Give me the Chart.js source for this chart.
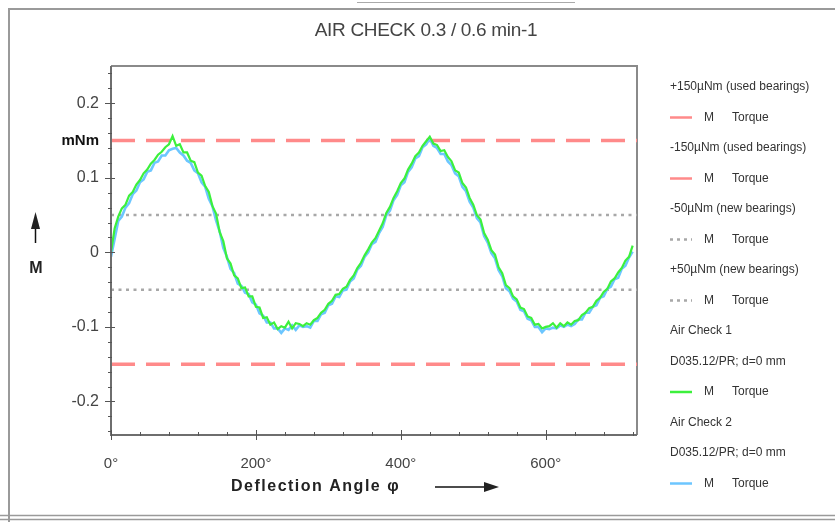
<!DOCTYPE html>
<html>
<head>
<meta charset="utf-8">
<script src="https://cdn.jsdelivr.net/npm/chart.js@4.4.1/dist/chart.umd.min.js"></script>
<style>
html,body{margin:0;padding:0;background:#fff;}
#wrap{position:relative;width:835px;height:523px;}
canvas{display:block;}
</style>
</head>
<body>
<div id="wrap"><canvas id="c" width="835" height="523"></canvas></div>
<script>
// ---- data ----
const angles = [0,5,10,15,20,25,30,35,40,45,50,55,60,65,70,75,80,85,90,95,100,105,110,115,120,125,130,135,140,145,150,155,160,165,170,175,180,185,190,195,200,205,210,215,220,225,230,235,240,245,250,255,260,265,270,275,280,285,290,295,300,305,310,315,320,325,330,335,340,345,350,355,360,365,370,375,380,385,390,395,400,405,410,415,420,425,430,435,440,445,450,455,460,465,470,475,480,485,490,495,500,505,510,515,520,525,530,535,540,545,550,555,560,565,570,575,580,585,590,595,600,605,610,615,620,625,630,635,640,645,650,655,660,665,670,675,680,685,690,695,700,705,710,715,720];
const airCheck1 = [
  0.000,0.032,0.048,0.059,0.064,0.076,0.081,0.091,0.097,0.106,
  0.111,0.119,0.124,0.131,0.135,0.141,0.145,0.156,0.143,0.145,
  0.134,0.134,0.123,0.121,0.107,0.103,0.089,0.081,0.062,0.052,
  0.027,0.015,-0.008,-0.015,-0.031,-0.035,-0.048,-0.047,-0.059,-0.059,
  -0.073,-0.074,-0.088,-0.087,-0.097,-0.094,-0.103,-0.099,-0.101,-0.093,
  -0.102,-0.095,-0.096,-0.099,-0.095,-0.097,-0.091,-0.088,-0.081,-0.077,
  -0.069,-0.065,-0.057,-0.056,-0.049,-0.046,-0.037,-0.031,-0.021,-0.014,
  -0.004,0.004,0.013,0.019,0.029,0.039,0.053,0.061,0.073,0.082,
  0.093,0.099,0.111,0.119,0.129,0.134,0.143,0.149,0.155,0.146,
  0.144,0.136,0.137,0.128,0.122,0.110,0.107,0.093,0.087,0.073,
  0.064,0.050,0.044,0.026,0.017,0.003,-0.003,-0.020,-0.028,-0.044,
  -0.048,-0.059,-0.063,-0.074,-0.076,-0.086,-0.088,-0.097,-0.096,-0.102,
  -0.100,-0.099,-0.095,-0.101,-0.095,-0.099,-0.094,-0.097,-0.092,-0.091,
  -0.084,-0.081,-0.075,-0.073,-0.065,-0.061,-0.053,-0.049,-0.039,-0.035,
  -0.027,-0.021,-0.011,-0.006,0.009];
const airCheck2 = [
  -0.006,0.018,0.042,0.048,0.060,0.066,0.078,0.083,0.094,0.098,
  0.108,0.110,0.120,0.122,0.130,0.130,0.137,0.139,0.140,0.134,
  0.130,0.123,0.120,0.110,0.106,0.094,0.088,0.072,0.062,0.043,
  0.028,0.006,-0.006,-0.022,-0.028,-0.042,-0.045,-0.054,-0.056,-0.067,
  -0.070,-0.082,-0.085,-0.094,-0.094,-0.102,-0.102,-0.108,-0.102,-0.104,
  -0.098,-0.104,-0.098,-0.100,-0.099,-0.101,-0.092,-0.092,-0.083,-0.081,
  -0.071,-0.069,-0.059,-0.060,-0.051,-0.050,-0.039,-0.035,-0.023,-0.018,
  -0.006,0.000,0.011,0.014,0.026,0.034,0.050,0.056,0.070,0.077,
  0.090,0.094,0.108,0.114,0.126,0.129,0.141,0.145,0.153,0.143,
  0.140,0.132,0.132,0.122,0.117,0.106,0.102,0.088,0.082,0.068,
  0.060,0.046,0.040,0.022,0.013,-0.001,-0.008,-0.024,-0.032,-0.048,
  -0.052,-0.062,-0.066,-0.077,-0.079,-0.089,-0.091,-0.100,-0.100,-0.107,
  -0.102,-0.103,-0.101,-0.102,-0.098,-0.100,-0.097,-0.099,-0.096,-0.090,
  -0.090,-0.081,-0.081,-0.073,-0.071,-0.061,-0.059,-0.049,-0.046,-0.036,
  -0.034,-0.022,-0.018,-0.007,0.001];
const limitUsedPlus = 0.15;
const limitUsedMinus = -0.15;
const limitNewMinus = -0.05;
const limitNewPlus = 0.05;
const xRange = [0, 726];
const yRange = [-0.245, 0.25];
const xTickValues = [0, 200, 400, 600];
const xTickLabels = ['0°', '200°', '400°', '600°'];
const yTickValues = [-0.2, -0.1, 0, 0.1, 0.15, 0.2];
const yTickLabels = ['-0.2', '-0.1', '0', '0.1', 'mNm', '0.2'];
const titleText = 'AIR CHECK 0.3 / 0.6 min-1';
const xAxisTitle = 'Deflection Angle φ';
const yAxisTitle = 'M';
const legendTexts = ['+150µNm (used bearings)', 'M|Torque', '-150µNm (used bearings)', 'M|Torque',
  '-50µNm (new bearings)', 'M|Torque', '+50µNm (new bearings)', 'M|Torque',
  'Air Check 1', 'D035.12/PR; d=0 mm', 'M|Torque', 'Air Check 2', 'D035.12/PR; d=0 mm', 'M|Torque'];

// ---- styles ----
const RED = '#ff8a8a', GRAY = '#a8a8a8', GREEN = '#3cf03c', BLUE = '#6cc6ff';
const FONT = '"Liberation Sans", Arial, sans-serif';

const pts = arr => angles.map((a, i) => ({x: a, y: arr[i]}));
const hline = v => [{x: xRange[0], y: v}, {x: xRange[1], y: v}];

const legendStyles = [null, {c: RED, d: []}, null, {c: RED, d: []}, null, {c: GRAY, d: [3, 4]}, null, {c: GRAY, d: [3, 4]},
  null, null, {c: GREEN, d: []}, null, null, {c: BLUE, d: []}];

const decor = {
  id: 'decor',
  beforeDraw(chart) {
    const ctx = chart.ctx;
    ctx.save();
    ctx.fillStyle = '#fff';
    ctx.fillRect(0, 0, chart.width, chart.height);
    ctx.restore();
  },
  beforeDatasetsDraw(chart) {
    const {ctx, chartArea: a} = chart;
    ctx.save();
    ctx.strokeStyle = '#8a8a8a';
    ctx.lineWidth = 2;
    ctx.beginPath();
    ctx.moveTo(a.left, a.top); ctx.lineTo(a.right, a.top); ctx.lineTo(a.right, a.bottom);
    ctx.stroke();
    ctx.restore();
  },
  afterDraw(chart) {
    const {ctx, chartArea: a, scales} = chart;
    const xs = scales.x, ys = scales.y;
    ctx.save();
    // axes
    ctx.strokeStyle = '#6e6e6e';
    ctx.lineWidth = 2;
    ctx.beginPath();
    ctx.moveTo(a.left, a.top); ctx.lineTo(a.left, a.bottom); ctx.lineTo(a.right, a.bottom);
    ctx.stroke();
    ctx.lineWidth = 1;
    ctx.strokeStyle = '#555';
    for (let v = -0.24; v <= 0.241; v += 0.02) {
      const y = Math.round(ys.getPixelForValue(v)) + 0.5;
      const major = Math.abs(Math.round(v * 100) % 10) === 0;
      ctx.beginPath();
      ctx.moveTo(a.left - (major ? 6 : 3), y); ctx.lineTo(a.left + (major ? 4 : 1), y);
      ctx.stroke();
    }
    for (let v = 0; v <= 720; v += 40) {
      const x = Math.round(xs.getPixelForValue(v)) + 0.5;
      const major = v % 200 === 0;
      ctx.beginPath();
      ctx.moveTo(x, a.bottom + (major ? 5 : 1)); ctx.lineTo(x, a.bottom - (major ? 5 : 3));
      ctx.stroke();
    }
    // outer frame
    ctx.strokeStyle = '#9a9a9a';
    ctx.lineWidth = 2;
    ctx.beginPath();
    ctx.moveTo(9, 522); ctx.lineTo(9, 9); ctx.lineTo(835, 9);
    ctx.stroke();
    ctx.lineWidth = 1.5;
    ctx.beginPath(); ctx.moveTo(0, 515.5); ctx.lineTo(835, 515.5); ctx.stroke();
    ctx.beginPath(); ctx.moveTo(0, 519.5); ctx.lineTo(835, 519.5); ctx.stroke();
    ctx.lineWidth = 1;
    ctx.strokeStyle = '#aaa';
    ctx.beginPath(); ctx.moveTo(357, 2.5); ctx.lineTo(575, 2.5); ctx.stroke();

    // title
    ctx.fillStyle = '#444';
    ctx.font = '19px ' + FONT;
    ctx.letterSpacing = '-0.3px';
    ctx.textAlign = 'center';
    ctx.textBaseline = 'middle';
    ctx.fillText(titleText, 426, 31);

    // x axis title + arrow
    ctx.fillStyle = '#222';
    ctx.font = 'bold 16px ' + FONT;
    ctx.letterSpacing = '1.5px';
    ctx.textAlign = 'left';
    ctx.fillText(xAxisTitle, 231, 487);
    ctx.letterSpacing = '0px';
    ctx.strokeStyle = '#111';
    ctx.lineWidth = 1.5;
    ctx.beginPath(); ctx.moveTo(435, 487); ctx.lineTo(486, 487); ctx.stroke();
    ctx.beginPath(); ctx.moveTo(499, 487); ctx.lineTo(484, 482); ctx.lineTo(484, 492); ctx.closePath(); ctx.fill();

    // y axis title + arrow
    ctx.font = 'bold 16px ' + FONT;
    ctx.textAlign = 'center';
    ctx.fillText(yAxisTitle, 36, 269);
    ctx.beginPath(); ctx.moveTo(35.5, 243); ctx.lineTo(35.5, 226); ctx.stroke();
    ctx.beginPath(); ctx.moveTo(35.5, 212); ctx.lineTo(31, 229); ctx.lineTo(40, 229); ctx.closePath(); ctx.fill();

    // legend
    ctx.font = '12px ' + FONT;
    ctx.textAlign = 'left';
    ctx.fillStyle = '#333';
    legendTexts.forEach((t, i) => {
      const y = 87 + i * 30.5;
      const st = legendStyles[i];
      if (st) {
        ctx.save();
        ctx.strokeStyle = st.c;
        ctx.lineWidth = 2.5;
        ctx.setLineDash(st.d);
        ctx.beginPath(); ctx.moveTo(670, y); ctx.lineTo(692, y); ctx.stroke();
        ctx.restore();
        const parts = t.split('|');
        ctx.fillText(parts[0], 704, y);
        ctx.fillText(parts[1], 732, y);
      } else {
        ctx.fillText(t, 670, y);
      }
    });
    ctx.restore();
  }
};

new Chart(document.getElementById('c'), {
  type: 'line',
  data: {
    datasets: [
      {label: 'Air Check 1', data: pts(airCheck1), borderColor: GREEN, borderWidth: 2.2, pointRadius: 0, order: 0, tension: 0},
      {label: 'Air Check 2', data: pts(airCheck2), borderColor: BLUE, borderWidth: 2.6, pointRadius: 0, order: 1, tension: 0},
      {label: '+150µNm', data: hline(limitUsedPlus), borderColor: RED, borderWidth: 3.5, borderDash: [24, 11], pointRadius: 0, order: 2},
      {label: '-150µNm', data: hline(limitUsedMinus), borderColor: RED, borderWidth: 3.5, borderDash: [24, 11], pointRadius: 0, order: 3},
      {label: '-50µNm', data: hline(limitNewMinus), borderColor: GRAY, borderWidth: 2.5, borderDash: [3, 4.5], pointRadius: 0, order: 4},
      {label: '+50µNm', data: hline(limitNewPlus), borderColor: GRAY, borderWidth: 2.5, borderDash: [3, 4.5], pointRadius: 0, order: 5}
    ]
  },
  options: {
    responsive: false,
    animation: false,
    devicePixelRatio: 1,
    layout: {padding: {top: 66, right: 198, left: 0, bottom: 0}},
    plugins: {legend: {display: false}, tooltip: {enabled: false}, title: {display: false}},
    scales: {
      x: {
        type: 'linear', min: xRange[0], max: xRange[1],
        afterFit: s => { s.height = 88; },
        afterBuildTicks: s => { s.ticks = xTickValues.map(v => ({value: v})); },
        grid: {display: false, drawTicks: false},
        border: {display: false},
        ticks: {
          padding: 20, color: '#444', font: {family: FONT, size: 15},
          callback: v => xTickLabels[xTickValues.indexOf(v)], maxRotation: 0, autoSkip: false
        }
      },
      y: {
        type: 'linear', min: yRange[0], max: yRange[1],
        afterFit: s => { s.width = 111; },
        afterBuildTicks: s => { s.ticks = yTickValues.map(v => ({value: v})); },
        grid: {display: false, drawTicks: false},
        border: {display: false},
        ticks: {
          padding: 12, color: ctx => (ctx.tick && ctx.tick.value === 0.15) ? '#111' : '#444',
          font: ctx => (ctx.tick && ctx.tick.value === 0.15) ? {family: FONT, size: 15, weight: 'bold'} : {family: FONT, size: 16},
          callback: v => yTickLabels[yTickValues.indexOf(v)], autoSkip: false
        }
      }
    }
  },
  plugins: [decor]
});
</script>
</body>
</html>
